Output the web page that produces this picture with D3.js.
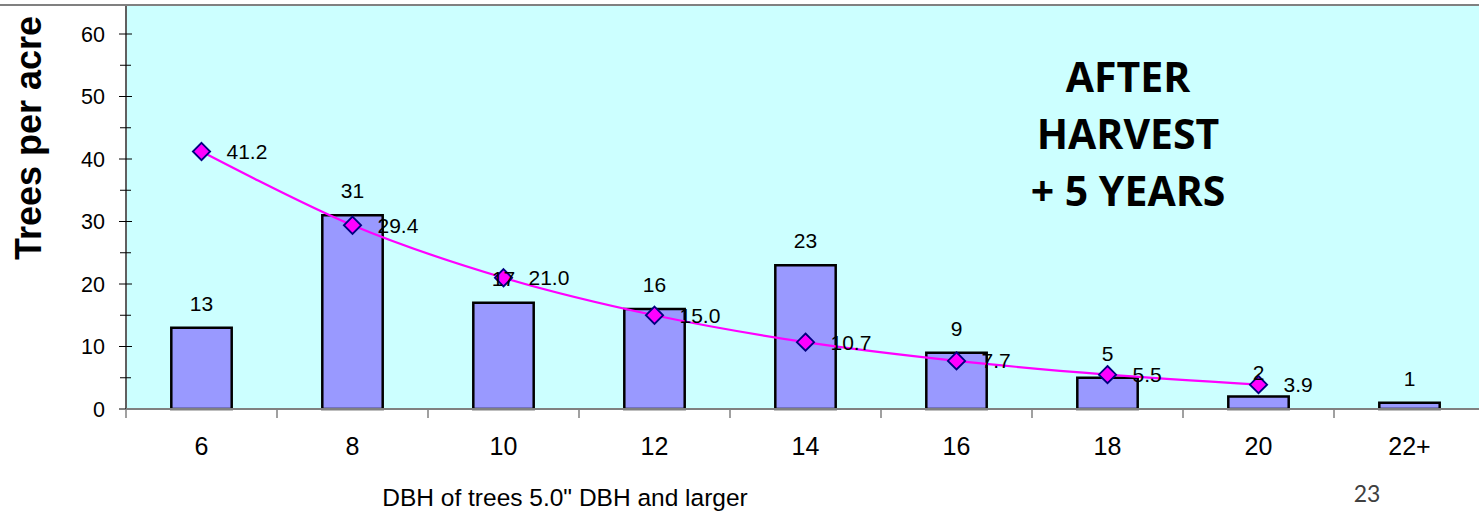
<!DOCTYPE html>
<html>
<head>
<meta charset="utf-8">
<script src="https://cdn.jsdelivr.net/npm/d3@7"></script>
<style>
  html, body { margin: 0; padding: 0; background: #ffffff; }
  svg { display: block; }
</style>
</head>
<body>
<script>
// Diameter classes (inches) and measured trees per acre
const categories = ["6", "8", "10", "12", "14", "16", "18", "20", "22+"];
const treesPerAcre = [13, 31, 17, 16, 23, 9, 5, 2, 1];

// Target diameter distribution (q-curve), defined for classes 6 through 20
const targetCategories = ["6", "8", "10", "12", "14", "16", "18", "20"];
const targetValues = [41.2, 29.4, 21.0, 15.0, 10.7, 7.7, 5.5, 3.9];

const yTicks = [0, 10, 20, 30, 40, 50, 60];
const yMinorTicks = [5, 15, 25, 35, 45, 55];

const W = 1479, H = 517;
const arial = "Arial, 'Liberation Sans', sans-serif";

const svg = d3.select("body").append("svg")
  .attr("width", W).attr("height", H);

const x = d3.scaleBand().domain(categories).range([126, 1485]).padding(0);
const y = d3.scaleLinear().domain([0, 60]).range([409, 34]);

const plotTop = 6, plotLeft = 126, plotBottom = y(0);

// plot area
svg.append("rect")
  .attr("x", plotLeft).attr("y", plotTop)
  .attr("width", W - plotLeft).attr("height", plotBottom - plotTop)
  .attr("fill", "#ccffff");

// top border of the slide frame
svg.append("line")
  .attr("x1", 0).attr("x2", W).attr("y1", 5).attr("y2", 5)
  .attr("stroke", "#808080").attr("stroke-width", 2);

// bars
const barW = x.bandwidth() * 0.4;
svg.append("g").selectAll("rect")
  .data(categories.map((c, i) => ({ c, v: treesPerAcre[i] })))
  .join("rect")
  .attr("x", d => x(d.c) + (x.bandwidth() - barW) / 2)
  .attr("y", d => y(d.v))
  .attr("width", barW)
  .attr("height", d => y(0) - y(d.v))
  .attr("fill", "#9999ff")
  .attr("stroke", "#000000")
  .attr("stroke-width", 2.5);

// y axis
const yAxis = svg.append("g");
yAxis.append("line")
  .attr("x1", plotLeft).attr("x2", plotLeft)
  .attr("y1", plotTop).attr("y2", plotBottom)
  .attr("stroke", "#606060").attr("stroke-width", 2);
yAxis.selectAll("line.major").data(yTicks).join("line")
  .attr("class", "major")
  .attr("x1", 119).attr("x2", 132)
  .attr("y1", d => y(d)).attr("y2", d => y(d))
  .attr("stroke", "#000").attr("stroke-width", 1);
yAxis.selectAll("line.minor").data(yMinorTicks).join("line")
  .attr("class", "minor")
  .attr("x1", 120).attr("x2", 131)
  .attr("y1", d => y(d)).attr("y2", d => y(d))
  .attr("stroke", "#000").attr("stroke-width", 1);
yAxis.selectAll("text").data(yTicks).join("text")
  .attr("x", 105).attr("y", d => y(d) + 7.5)
  .attr("text-anchor", "end")
  .attr("font-family", arial).attr("font-size", 21.5)
  .attr("fill", "#000")
  .text(d => d);

// x axis
const xAxis = svg.append("g");
xAxis.append("line")
  .attr("x1", plotLeft).attr("x2", W)
  .attr("y1", plotBottom).attr("y2", plotBottom)
  .attr("stroke", "#808080").attr("stroke-width", 2);
const boundaries = categories.map(c => x(c));
xAxis.selectAll("line.tick").data(boundaries).join("line")
  .attr("class", "tick")
  .attr("x1", d => d).attr("x2", d => d)
  .attr("y1", plotBottom).attr("y2", plotBottom + 9)
  .attr("stroke", "#808080").attr("stroke-width", 1.5);
xAxis.selectAll("text").data(categories).join("text")
  .attr("x", d => x(d) + x.bandwidth() / 2).attr("y", 455)
  .attr("text-anchor", "middle")
  .attr("font-family", arial).attr("font-size", 25)
  .attr("fill", "#000")
  .text(d => d);

// target curve
const pts = targetCategories.map((c, i) => ({ c, v: targetValues[i] }));
const line = d3.line()
  .x(d => x(d.c) + x.bandwidth() / 2)
  .y(d => y(d.v))
  .curve(d3.curveCardinal.tension(0));
svg.append("path")
  .datum(pts)
  .attr("d", line)
  .attr("fill", "none")
  .attr("stroke", "#ff00ff")
  .attr("stroke-width", 2.2);

const diamond = d3.symbol().type(d3.symbolDiamond2).size(190);
svg.append("g").selectAll("path").data(pts).join("path")
  .attr("d", diamond)
  .attr("transform", d => `translate(${x(d.c) + x.bandwidth() / 2},${y(d.v)})`)
  .attr("fill", "#ff00ff")
  .attr("stroke", "#000080")
  .attr("stroke-width", 1.8);

// bar value labels
svg.append("g").selectAll("text")
  .data(categories.map((c, i) => ({ c, v: treesPerAcre[i] })))
  .join("text")
  .attr("x", d => x(d.c) + x.bandwidth() / 2).attr("y", d => y(d.v) - 17)
  .attr("text-anchor", "middle")
  .attr("font-family", arial).attr("font-size", 21)
  .attr("fill", "#000")
  .text(d => d.v);

// curve value labels
svg.append("g").selectAll("text").data(pts).join("text")
  .attr("x", d => x(d.c) + x.bandwidth() / 2 + 25).attr("y", d => y(d.v) + 7.5)
  .attr("text-anchor", "start")
  .attr("font-family", arial).attr("font-size", 21)
  .attr("fill", "#000")
  .text(d => d.v.toFixed(1));

// axis titles
svg.append("text")
  .attr("transform", `translate(41,138) rotate(-90)`)
  .attr("text-anchor", "middle")
  .attr("font-family", arial).attr("font-weight", "bold").attr("font-size", 36)
  .attr("fill", "#000")
  .text("Trees per acre");

svg.append("text")
  .attr("x", 565).attr("y", 506)
  .attr("text-anchor", "middle")
  .attr("font-family", arial).attr("font-size", 24.5)
  .attr("fill", "#000")
  .text("DBH of trees 5.0\" DBH and larger");

// stage annotation
const note = ["AFTER", "HARVEST", "+ 5 YEARS"];
svg.append("g").selectAll("text").data(note).join("text")
  .attr("x", 1128)
  .attr("y", (d, i) => 92 + i * 57)
  .attr("text-anchor", "middle")
  .attr("font-family", "'Open Sans', sans-serif").attr("font-weight", "bold")
  .attr("font-size", 41)
  .attr("fill", "#000")
  .text(d => d);

// slide number
svg.append("text")
  .attr("x", 1367).attr("y", 502)
  .attr("text-anchor", "middle")
  .attr("font-family", "Lato, 'Open Sans', sans-serif").attr("font-size", 23)
  .attr("fill", "#404040")
  .text("23");
</script>
</body>
</html>
